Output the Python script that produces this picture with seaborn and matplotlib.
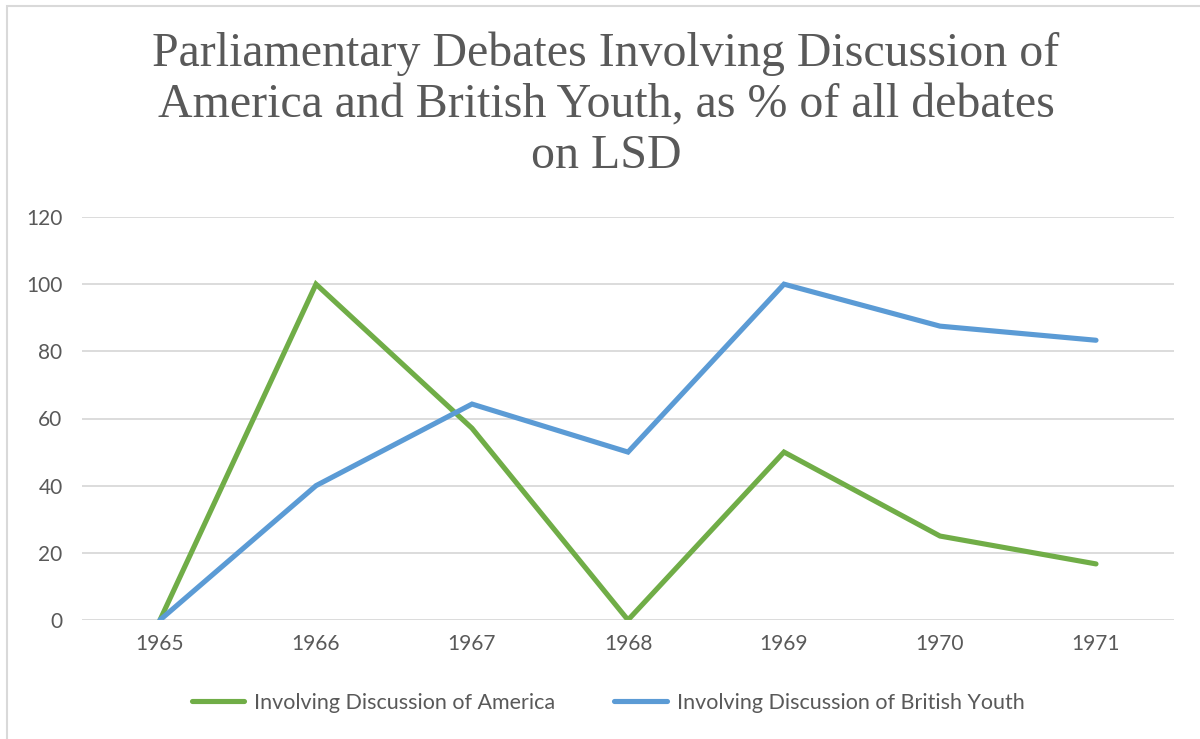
import matplotlib
matplotlib.use("Agg")
import matplotlib.pyplot as plt
import seaborn as sns
import pandas as pd
from matplotlib.patches import Rectangle
from matplotlib.lines import Line2D

years = ["1965", "1966", "1967", "1968", "1969", "1970", "1971"]
america = [0, 100, 57.1, 0, 50, 25, 16.7]
british_youth = [0, 40, 64.3, 50, 100, 87.5, 83.3]
series_names = ["Involving Discussion of America", "Involving Discussion of British Youth"]
colors = ["#70AD47", "#5B9BD5"]
title = "Parliamentary Debates Involving Discussion of\nAmerica and British Youth, as % of all debates\non LSD"

df = pd.DataFrame({
    "year": years * 2,
    "value": america + british_youth,
    "series": [series_names[0]] * len(years) + [series_names[1]] * len(years),
})

sns.set_theme(style="white")
plt.rcParams["font.family"] = ["Lato", "DejaVu Sans"]
text_color = "#595959"

fig = plt.figure(figsize=(12, 7.39), dpi=100)
ax = fig.add_axes([82/1200, 1 - 620/739, (1174 - 82)/1200, (620 - 217)/739])

sns.lineplot(data=df, x="year", y="value", hue="series", palette=colors,
             linewidth=3.7, ax=ax, legend=False, sort=False,
             solid_capstyle="round", solid_joinstyle="miter")

ax.set_xlim(-0.5, 6.5)
ax.set_ylim(0, 120)
ax.set_yticks(range(0, 121, 20))
ax.yaxis.grid(True, color="#D9D9D9", linewidth=1.3)
ax.xaxis.grid(False)
for s in ax.spines.values():
    s.set_visible(False)
ax.set_xlabel("")
ax.set_ylabel("")
ax.tick_params(axis="both", length=0, labelsize=15, colors=text_color)
ax.tick_params(axis="y", pad=14)
ax.tick_params(axis="x", pad=10)
ax.set_axisbelow(True)

fig.text(606/1200, 1 - 31/739, title, ha="center", va="top",
         family=["Liberation Serif"], fontsize=34.5, color=text_color,
         linespacing=1.22)

handles = [Line2D([0], [0], color=c, linewidth=3.7, solid_capstyle="round") for c in colors]
leg = fig.legend(handles, series_names, loc="center", bbox_to_anchor=(608/1200, 1 - 703/739),
                 ncol=2, frameon=False, fontsize=15.5, handlelength=2.45,
                 handletextpad=0.45, columnspacing=2.75, labelcolor=text_color)

fig.patches.append(Rectangle((7/1200, -0.1), 1.2, 1 - 6/739 + 0.1, transform=fig.transFigure,
                             fill=False, edgecolor="#D9D9D9", linewidth=1.5))

fig.savefig("out.png", dpi=100)
